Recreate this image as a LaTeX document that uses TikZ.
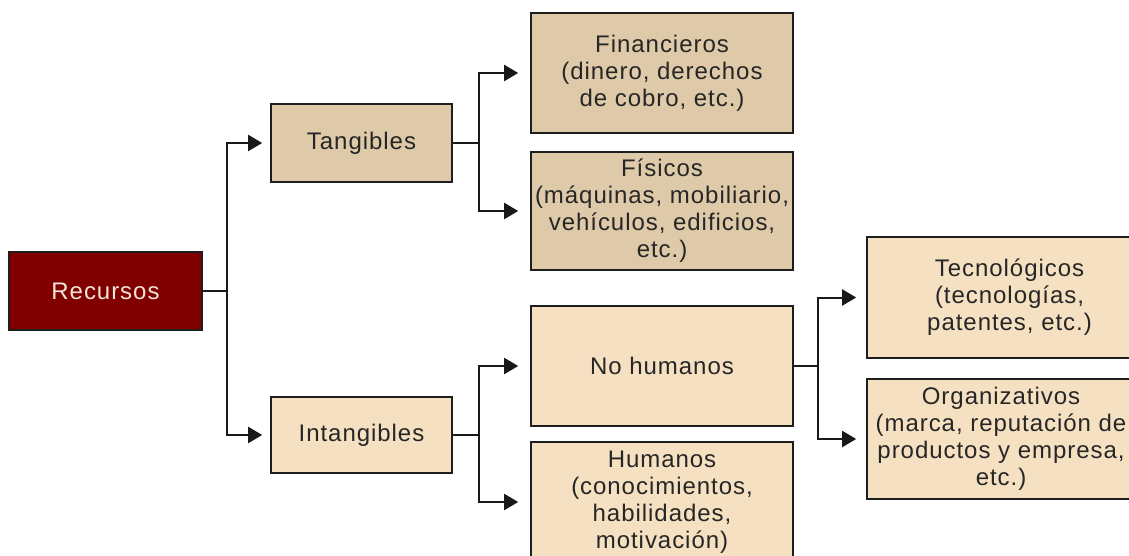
\documentclass[tikz,border=0pt]{standalone}
\usepackage{fontspec}
\setmainfont[LetterSpace=4]{Liberation Sans}
\usetikzlibrary{arrows.meta}
\definecolor{darkred}{HTML}{800000}
\definecolor{rectext}{HTML}{F2E4DA}
\definecolor{tanfill}{HTML}{DECAA8}
\definecolor{lightfill}{HTML}{F5E1C2}
\definecolor{edge}{HTML}{1E1E1E}
\tikzset{
  box/.style={draw=edge, line width=1.6pt, inner sep=0pt, align=center,
    font={\fontsize{24}{27}\selectfont}, text=black!85},
  conn/.style={draw=black!90, line width=2pt, line join=miter},
  arr/.style={conn, -{Triangle[length=14pt,width=16pt]}}
}
\begin{document}
\begin{tikzpicture}[x=1pt,y=-1pt]
\fill[white] (0,0) rectangle (1129,556);
\useasboundingbox (0,0) rectangle (1129,556);
\clip (0,0) rectangle (1129,556);

\node[box, fill=darkred, text=rectext, minimum width=193pt, minimum height=78pt] (rec) at (105.5,291) {Recursos};
\node[box, fill=tanfill, minimum width=181pt, minimum height=78pt] (tan) at (361.5,143) {Tangibles};
\node[box, fill=lightfill, minimum width=181pt, minimum height=76pt] (int) at (361.5,435) {Intangibles};

\node[box, fill=tanfill, minimum width=262pt, minimum height=120pt] (fin) at (662,73) {Financieros\\(dinero, derechos\\de cobro, etc.)};
\node[box, fill=tanfill, minimum width=262pt, minimum height=118pt] (fis) at (662,211) {Físicos\\(máquinas, mobiliario,\\vehículos, edificios,\\etc.)};
\node[box, fill=lightfill, minimum width=262pt, minimum height=120pt] (noh) at (662,366) {No humanos};
\node[box, fill=lightfill, minimum width=262pt, minimum height=120pt] (hum) at (662,502) {Humanos\\(conocimientos,\\habilidades,\\motivación)};

\node[box, fill=lightfill, minimum width=285pt, minimum height=121pt] (tec) at (1009.5,297.5) {Tecnológicos\\(tecnologías,\\patentes, etc.)};
\node[box, fill=lightfill, minimum width=268pt, minimum height=120pt] (org) at (1001,439) {Organizativos\\(marca, reputación de\\productos y empresa,\\etc.)};

\coordinate (j1) at (227,291);
\coordinate (j2) at (479,143);
\coordinate (j3) at (479,435);
\coordinate (j4) at (818,366);

\draw[conn] (rec.east) -- (j1);
\draw[arr] (j1) |- ([xshift=-8pt]tan.west);
\draw[arr] (j1) |- ([xshift=-8pt]int.west);

\draw[conn] (tan.east) -- (j2);
\draw[arr] (j2) |- ([xshift=-12pt]fin.west);
\draw[arr] (j2) |- ([xshift=-12pt]fis.west);

\draw[conn] (int.east) -- (j3);
\draw[arr] (j3) |- ([xshift=-12pt]noh.west);
\draw[arr] (j3) |- ([xshift=-12pt]hum.west);

\draw[conn] (noh.east) -- (j4);
\draw[arr] (j4) |- ([xshift=-10pt]tec.west);
\draw[arr] (j4) |- ([xshift=-10pt]org.west);
\end{tikzpicture}
\end{document}
